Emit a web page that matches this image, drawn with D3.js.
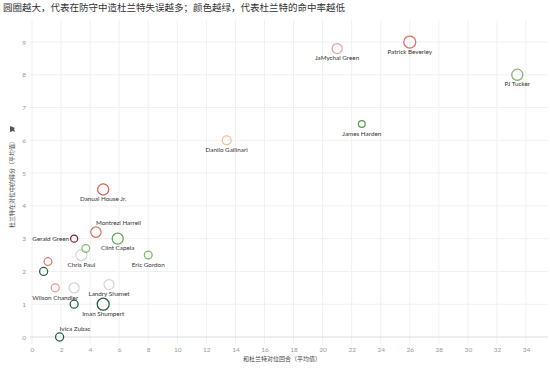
<!DOCTYPE html>
<html><head><meta charset="utf-8">
<script src="https://cdn.jsdelivr.net/npm/d3@7"></script>
<style>body{margin:0;background:#fff}svg{display:block}</style>
</head><body>
<svg id="c" width="550" height="370"></svg>
<script>
const title = "圆圈越大，代表在防守中造杜兰特失误越多；颜色越绿，代表杜兰特的命中率越低";
const xTitle = "和杜兰特对位回合（平均值）";
const yTitle = "杜兰特在对位中的得分（平均值）";
const players = ["JaMychal Green","Patrick Beverley","PJ Tucker","James Harden","Danilo Gallinari","Danual House Jr.","Montrezl Harrell","Gerald Green","Clint Capela","","Chris Paul","Eric Gordon","","","Wilson Chandler","","Landry Shamet","","Iman Shumpert","Ivica Zubac"];
const possessions = [21.0,26.0,33.4,22.7,13.4,4.9,4.4,2.9,5.9,3.7,3.4,8.0,1.1,0.8,1.6,2.9,5.3,2.9,4.9,1.9];
const points = [8.8,9.0,8.0,6.5,6.0,4.5,3.2,3.0,3.0,2.7,2.5,2.5,2.3,2.0,1.5,1.5,1.6,1.0,1.0,0.0];
const turnovers = [0.7,1.0,0.85,0.32,0.55,0.85,0.75,0.35,0.85,0.42,0.85,0.42,0.42,0.45,0.45,0.7,0.7,0.45,1.0,0.45];
const fgPct = [0.57,0.63,0.43,0.38,0.53,0.66,0.63,0.80,0.40,0.44,0.50,0.43,0.62,0.24,0.58,0.50,0.50,0.23,0.22,0.20];
const xTicks = d3.range(0,35,2);
const yTicks = d3.range(0,10,1);

const svg = d3.select("#c");
const x = d3.scaleLinear().domain([0,34]).range([32,526]);
const y = d3.scaleLinear().domain([0,9]).range([337,42]);
const r = d3.scaleSqrt().domain([0,1]).range([0,6]);
const color = d3.scaleLinear()
  .domain([0.20,0.30,0.40,0.45,0.50,0.53,0.57,0.62,0.67,0.80])
  .range(["#1f5a3e","#2f6e4e","#62a552","#8cc47a","#d4d4d4","#e9c2a2","#eaa3a0","#e0786a","#d6504c","#8a1a3c"])
  .clamp(true);

const pTop = 20, pBottom = 344, pLeft = 30, pRight = 548;
const g = svg.append("g");
g.selectAll(".vg").data(xTicks).join("line")
  .attr("x1",d=>x(d)).attr("x2",d=>x(d)).attr("y1",pTop).attr("y2",pBottom)
  .attr("stroke","#f0f0f0").attr("stroke-width",1);
g.selectAll(".hg").data(yTicks).join("line")
  .attr("x1",pLeft).attr("x2",pRight).attr("y1",d=>y(d)).attr("y2",d=>y(d))
  .attr("stroke",d=>d===0?"#dcdcdc":"#f0f0f0").attr("stroke-width",1);

const xAxis = d3.axisBottom(x).tickValues(xTicks).tickSize(0).tickPadding(0);
const ax = svg.append("g").attr("transform","translate(0,347)").call(xAxis);
ax.select(".domain").remove();
ax.selectAll("text").attr("fill","#999").attr("font-size","6.5px").attr("font-family","Lato, sans-serif");
const yAxis = d3.axisLeft(y).tickValues(yTicks).tickSize(0).tickPadding(0);
const ay = svg.append("g").attr("transform","translate(26,0)").call(yAxis);
ay.select(".domain").remove();
ay.selectAll("text").attr("fill","#999").attr("font-size","6.5px").attr("font-family","Lato, sans-serif");

svg.append("text").attr("x",3).attr("y",11).text(title)
  .attr("font-family","'Noto Sans CJK SC', sans-serif").attr("font-size","9.5px").attr("fill","#333");
svg.append("text").attr("x",282).attr("y",361).attr("text-anchor","middle").text(xTitle)
  .attr("font-family","'Noto Sans CJK SC', sans-serif").attr("font-size","6px").attr("fill","#444");
svg.append("text").attr("transform","translate(14,183) rotate(-90)").attr("text-anchor","middle").text(yTitle)
  .attr("font-family","'Noto Sans CJK SC', sans-serif").attr("font-size","6px").attr("fill","#444");
svg.append("path").attr("d","M10,126 l5,2 l-1,1 l1,3 l-2,-1 l-3,1 z").attr("fill","#555");

const data = players.map((p,i)=>({name:p,x:possessions[i],y:points[i],t:turnovers[i],c:fgPct[i]}));
const order = data.slice().sort((a,b)=>b.t-a.t);
svg.append("g").selectAll("circle").data(order).join("circle")
  .attr("cx",d=>x(d.x)).attr("cy",d=>y(d.y)).attr("r",d=>r(d.t))
  .attr("fill","none").attr("stroke",d=>color(d.c)).attr("stroke-width",1.25);

const place = {
  "Montrezl Harrell":{anchor:"start",dx:0,dy:-9.5},
  "Gerald Green":{anchor:"end",dx:-5,dy:0},
  "Ivica Zubac":{anchor:"start",dx:0,dy:-8}
};
svg.append("g").selectAll("text").data(data.filter(d=>d.name)).join("text")
  .attr("x",d=>x(d.x)+(place[d.name]?place[d.name].dx:0))
  .attr("y",d=>y(d.y)+(place[d.name]?place[d.name].dy:9.5))
  .attr("dy","0.35em")
  .attr("text-anchor",d=>place[d.name]?place[d.name].anchor:"middle")
  .attr("font-family","Lato, sans-serif").attr("font-size","6.3px").attr("fill","#333")
  .text(d=>d.name);
</script>
</body></html>
